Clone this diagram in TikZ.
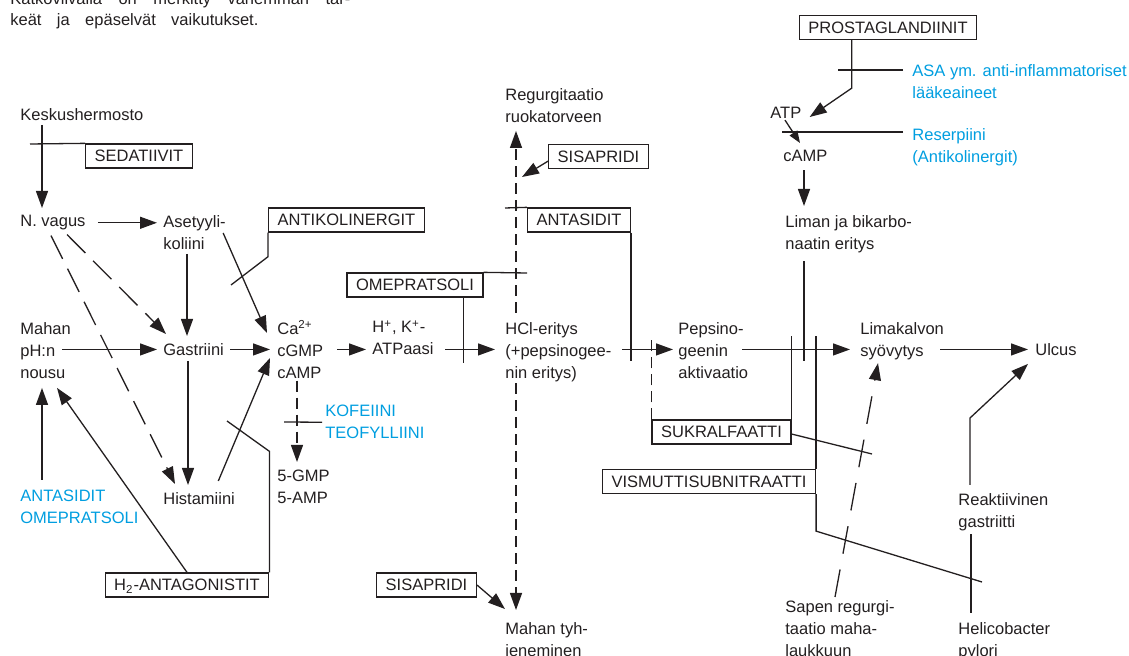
\documentclass[tikz,border=0pt]{standalone}
\usepackage{fontspec}
\setmainfont{Liberation Sans}
\usepackage{tikz}
\usetikzlibrary{positioning, calc, arrows.meta}
\definecolor{ink}{RGB}{35,31,32}
\definecolor{drugblue}{RGB}{0,158,224}

\begin{document}
\begin{tikzpicture}[x=0.5pt, y=-0.5pt,
    every node/.style={font=\fontsize{8.25}{11}\selectfont, text=ink},
    lbl/.style={anchor=north west, inner sep=0pt, align=left},
    drug/.style={lbl, text=drugblue},
    drugbox/.style={draw=ink, line width=0.65pt, inner xsep=4.5pt, inner ysep=0pt,
      minimum height=12pt, text height=5.9pt, text depth=0pt},
    wire/.style={draw=ink, line width=0.65pt},
    arrow/.style={wire, -{Triangle[length=8.5pt, width=6pt]}},
    smallarrow/.style={wire, -{Triangle[length=6pt, width=4.5pt]}},
    vagusdash/.style={dash pattern=on 13pt off 5.5pt},
    shortdash/.style={dash pattern=on 5.5pt off 3pt},
    bildash/.style={dash pattern=on 14pt off 8pt}
  ]
  \useasboundingbox (0,0) rectangle (1129,656);

  \node[lbl, font=\fontsize{8.25}{10.5}\selectfont] (note) at (10,-8)
    {\makebox[170pt][s]{Katkoviivalla on merkitty vähemmän tär-}\\\makebox[124pt][s]{keät ja epäselvät vaikutukset.}};

  \node[lbl] (kesku) at (20,108) {Keskushermosto};
  \node[lbl] (vagus) at (20,215) {N. vagus};
  \node[lbl] (asetyyli) at (163,215) {Asetyyli-\\koliini};
  \node[lbl] (mahan) at (20,322) {Mahan\\pH:n\\nousu};
  \node[lbl] (gastriini) at (163,343) {Gastriini};
  \node[lbl] (ca) at (277,320) {Ca\textsuperscript{2+}\\cGMP\\cAMP};
  \node[lbl] (hk) at (372,320) {H\textsuperscript{+}, K\textsuperscript{+}-\\ATPaasi};
  \node[lbl] (hcl) at (505,322) {HCl-eritys\\(+pepsinogee-\\nin eritys)};
  \node[lbl] (pepsino) at (678,322) {Pepsino-\\geenin\\aktivaatio};
  \node[lbl] (lima) at (860,322) {Limakalvon\\syövytys};
  \node[lbl] (ulcus) at (1035,343) {Ulcus};
  \node[lbl] (histamiini) at (163,492) {Histamiini};
  \node[drug] (antacid) at (20,490) {ANTASIDIT\\OMEPRATSOLI};
  \node[drug] (kofeiini) at (325,405) {KOFEIINI\\TEOFYLLIINI};
  \node[lbl] (gmp) at (277,470) {5-GMP\\5-AMP};
  \node[lbl] (regurg) at (505,88) {Regurgitaatio\\ruokatorveen};
  \node[lbl] (tyhj) at (505,622) {Mahan tyh-\\jeneminen};
  \node[lbl] (atp) at (770,107) {ATP};
  \node[lbl] (camp) at (783,150) {cAMP};
  \node[lbl] (liman) at (785,215) {Liman ja bikarbo-\\naatin eritys};
  \node[drug] (asa) at (912,64) {ASA ym. anti-inflammatoriset\\lääkeaineet};
  \node[drug] (reserp) at (912,128) {Reserpiini\\(Antikolinergit)};
  \node[lbl] (sapen) at (785,600) {Sapen regurgi-\\taatio maha-\\laukkuun};
  \node[lbl] (helico) at (958,622) {Helicobacter\\pylori};
  \node[lbl] (reakt) at (958,493) {Reaktiivinen\\gastriitti};

  \node[drugbox] (sedat) at (139,156) {SEDATIIVIT};
  \node[drugbox] (antikol) at (346.5,220) {ANTIKOLINERGIT};
  \node[drugbox] (omep) at (415,285) {OMEPRATSOLI};
  \node[drugbox] (antas) at (579,220) {ANTASIDIT};
  \node[drugbox] (sisatop) at (598.5,156.5) {SISAPRIDI};
  \node[drugbox] (sisabot) at (426.5,585) {SISAPRIDI};
  \node[drugbox] (h2) at (187,585) {H\textsubscript{2}-ANTAGONISTIT};
  \node[drugbox] (prost) at (888,27.5) {PROSTAGLANDIINIT};
  \node[drugbox] (sukr) at (721.5,432) {SUKRALFAATTI};
  \node[drugbox] (vism) at (709,481.5) {VISMUTTISUBNITRAATTI};

  \coordinate (sedbar) at (30,144);
  \coordinate (antikbar) at (231,285);
  \coordinate (h2bar) at (227,421);
  \coordinate (kofbar) at (284,422);
  \coordinate (regpoint) at (522,177);
  \coordinate (antasbar) at (505,208);
  \coordinate (omepbar) at (527,273);
  \coordinate (sukrbar) at (872,454);
  \coordinate (vismbar) at (982,582);
  \coordinate (asabar) at (838,70);
  \coordinate (resbar) at (782,132);

  \draw[arrow] ($(kesku.south west)+(22,4)$) -- ($(vagus.north west)+(22,-7)$);
  \draw[wire] (sedat.north west) -- (sedbar);
  \draw[arrow] ($(vagus.east)+(12,0)$) -- ($(asetyyli.west |- vagus.east)+(-6,0)$);
  \draw[arrow] ($(asetyyli.south west)+(24,4)$) -- ($(gastriini.north west)+(24,-7)$);
  \draw[arrow] ($(asetyyli.north east)+(-3,18)$) -- ($(ca.north west)+(-10,13)$);
  \draw[wire] (antikol.south west) -- ++(0,24) -- (antikbar);
  \draw[arrow, vagusdash] ($(vagus.south west)+(47,4)$) -- ($(gastriini.north west)+(3,-9)$);
  \draw[arrow, vagusdash] ($(vagus.south west)+(31,5)$) -- ($(histamiini.north west)+(12,-8)$);
  \draw[arrow] ($(gastriini.south west)+(25,5)$) -- ($(histamiini.north west)+(25,-7)$);
  \draw[arrow] ($(histamiini.north east)+(-17,-11)$) -- ($(ca.north west)+(-7,38)$);

  \draw[arrow] ($(mahan.west |- gastriini.west)+(42,0)$) -- ($(gastriini.west)+(-6,0)$);
  \draw[arrow] ($(gastriini.east)+(6,0)$) -- ($(ca.west |- gastriini.west)+(-7,0)$);
  \draw[arrow] ($(ca.west |- gastriini.west)+(60,0)$) -- ($(hk.west |- gastriini.west)+(-6,0)$);
  \draw[arrow] ($(hk.west |- gastriini.west)+(73,0)$) -- ($(hcl.west |- gastriini.west)+(-10,0)$);
  \draw[arrow] ($(hcl.west |- gastriini.west)+(117,0)$) -- ($(pepsino.west |- gastriini.west)+(-5,0)$);
  \draw[arrow] ($(pepsino.west |- gastriini.west)+(64,0)$) -- ($(lima.west |- gastriini.west)+(-10,0)$);
  \draw[arrow] ($(lima.west |- gastriini.west)+(80,0)$) -- ($(ulcus.west)+(-7,0)$);

  \draw[arrow] ($(antacid.north west)+(22,-10)$) -- ($(mahan.south west)+(22,9)$);
  \draw[arrow] (h2.north) -- ($(mahan.south west)+(37,9)$);
  \draw[wire] (h2.north east) -- ++(0,-121) -- (h2bar);
  \draw[arrow, shortdash] ($(ca.south west)+(20,2)$) -- ($(gmp.north west)+(20,-8)$);
  \draw[wire] ($(kofeiini.west)+(-3,0)$) -- (kofbar);

  \draw[arrow, shortdash] ($(hcl.north west)+(11,-9)$) -- ($(regurg.south west)+(11,8)$);
  \draw[arrow, shortdash] ($(hcl.south west)+(11,1)$) -- ($(tyhj.north west)+(11,-12)$);
  \draw[arrow] ($(sisatop.south west)+(0,-8)$) -- (regpoint);
  \draw[arrow] (sisabot.east) -- ($(tyhj.north west)+(0,-13)$);
  \draw[wire] (antas.north west) -- (antasbar);
  \draw[wire] (antas.south east) -- ++(0,128);
  \draw[wire] (omep.north east) -- (omepbar);
  \draw[wire] ($(omep.south east)+(-20,0)$) -- ++(0,65);

  \draw[wire, shortdash] (sukr.north west) -- ++(0,-83);
  \draw[wire] (sukr.north east) -- ++(0,-83);
  \draw[wire] ($(sukr.east)+(0,2)$) -- (sukrbar);
  \draw[wire] (vism.north east) -- ++(0,-133);
  \draw[wire] (vism.south east) -- ++(0,37) -- (vismbar);

  \draw[arrow] ($(prost.south west)+(53,0)$) -- ++(0,48) -- ($(atp.north east)+(8,10)$);
  \draw[wire] ($(asa.north west)+(-9,6)$) -- (asabar);
  \draw[smallarrow] ($(atp.south west)+(15,1)$) -- ($(camp.north west)+(17,-7)$);
  \draw[wire] ($(reserp.north west)+(-9,4)$) -- (resbar);
  \draw[arrow] ($(camp.south west)+(21,8)$) -- ($(liman.north west)+(19,-9)$);
  \draw[wire] ($(liman.south west)+(19,8)$) -- ++(0,100);
  \draw[arrow, bildash] ($(sapen.north west)+(50,-3)$) -- ($(lima.south west)+(18,3)$);
  \draw[wire] ($(helico.north west)+(13,-9)$) -- ($(reakt.south west)+(13,3)$);
  \draw[arrow] ($(reakt.north west)+(12,-8)$) -- ++(0,-67) -- ($(ulcus.south west)+(-7,8)$);
\end{tikzpicture}
\end{document}
